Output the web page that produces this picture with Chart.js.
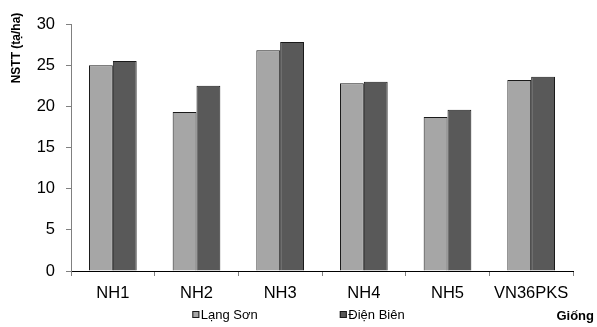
<!DOCTYPE html>
<html>
<head>
<meta charset="utf-8">
<script src="https://cdn.jsdelivr.net/npm/chart.js@4/dist/chart.umd.min.js"></script>
<style>
html,body{margin:0;padding:0;background:#fff;}
#wrap{position:relative;width:597px;height:327px;}
</style>
</head>
<body>
<div id="wrap"><canvas id="c" width="597" height="327"></canvas></div>
<script>
const categories = ["NH1", "NH2", "NH3", "NH4", "NH5", "VN36PKS"];
const langSon = [25.0, 19.3, 26.8, 22.8, 18.7, 23.2];
const dienBien = [25.5, 22.5, 27.8, 23.0, 19.6, 23.6];
const seriesNames = ["Lạng Sơn", "Điện Biên"];
const seriesColors = ["#a6a6a6", "#595959"];
const yTitle = "NSTT (tạ/ha)";
const xTitle = "Giống";

const FONT = "'Liberation Sans', Arial, sans-serif";

const titlesLegendPlugin = {
  id: 'titlesLegend',
  afterDraw(chart) {
    const ctx = chart.ctx;
    // y-axis title
    ctx.save();
    ctx.fillStyle = '#000';
    ctx.font = "bold 12px " + FONT;
    ctx.translate(17, 48);
    ctx.rotate(-Math.PI / 2);
    ctx.textAlign = 'center';
    ctx.textBaseline = 'middle';
    ctx.fillText(yTitle, 0, 0);
    ctx.restore();

    // legend (from datasets)
    const ly = 315;
    const box = 7, gapText = 1.5, gapItems = 82;
    ctx.save();
    ctx.font = "13px " + FONT;
    const items = chart.data.datasets.map(d => ({
      text: d.label, fill: d.backgroundColor, w: ctx.measureText(d.label).width
    }));
    let total = 0;
    items.forEach((it, i) => { total += box + gapText + it.w + (i ? gapItems : 0); });
    let x = chart.width / 2 - total / 2;
    items.forEach((it) => {
      ctx.fillStyle = it.fill;
      ctx.fillRect(x, ly - box / 2 - 0.5, box, box);
      ctx.strokeStyle = '#1a1a1a';
      ctx.lineWidth = 1;
      ctx.strokeRect(x + 0.5, ly - box / 2, box - 1, box - 1);
      ctx.fillStyle = '#000';
      ctx.textAlign = 'left';
      ctx.textBaseline = 'middle';
      ctx.fillText(it.text, x + box + gapText, ly);
      x += box + gapText + it.w + gapItems;
    });
    ctx.restore();

    // x-axis title
    ctx.save();
    ctx.fillStyle = '#000';
    ctx.font = "bold 13px " + FONT;
    ctx.textAlign = 'right';
    ctx.textBaseline = 'middle';
    ctx.fillText(xTitle, 594, ly + 1);
    ctx.restore();
  }
};

new Chart(document.getElementById('c'), {
  type: 'bar',
  data: {
    labels: categories,
    datasets: [
      { label: seriesNames[0], data: langSon, backgroundColor: seriesColors[0], borderColor: '#1a1a1a', borderWidth: 1, categoryPercentage: 0.57, barPercentage: 1.0, yAxisID: 'y' },
      { label: seriesNames[1], data: dienBien, backgroundColor: seriesColors[1], borderColor: '#1a1a1a', borderWidth: 1, categoryPercentage: 0.57, barPercentage: 1.0, yAxisID: 'y' }
    ]
  },
  options: {
    responsive: false,
    animation: false,
    devicePixelRatio: 1,
    layout: { padding: { left: 0, right: 0, top: 24, bottom: 24 } },
    plugins: {
      legend: { display: false },
      tooltip: { enabled: false }
    },
    scales: {
      x: {
        grid: { offset: true, drawOnChartArea: false, drawTicks: true, tickLength: 5, color: '#808080' },
        border: { color: '#000', width: 1 },
        ticks: { color: '#000', font: { family: FONT, size: 16.5 }, padding: 8, maxRotation: 0 },
        afterFit(s) { s.height = 32; }
      },
      y: {
        position: 'left',
        min: 0, max: 30,
        ticks: { stepSize: 5, color: '#000', font: { family: FONT, size: 16.5 }, padding: 11 },
        grid: { drawOnChartArea: false, drawTicks: true, tickLength: 5, color: '#808080' },
        border: { color: '#808080', width: 1 },
        afterFit(s) { s.width = 71; }
      },
      yr: {
        position: 'right',
        display: true,
        min: 0, max: 30,
        ticks: { display: false },
        grid: { display: false },
        border: { display: false },
        afterFit(s) { s.width = 24; }
      }
    }
  },
  plugins: [titlesLegendPlugin]
});
</script>
</body>
</html>
